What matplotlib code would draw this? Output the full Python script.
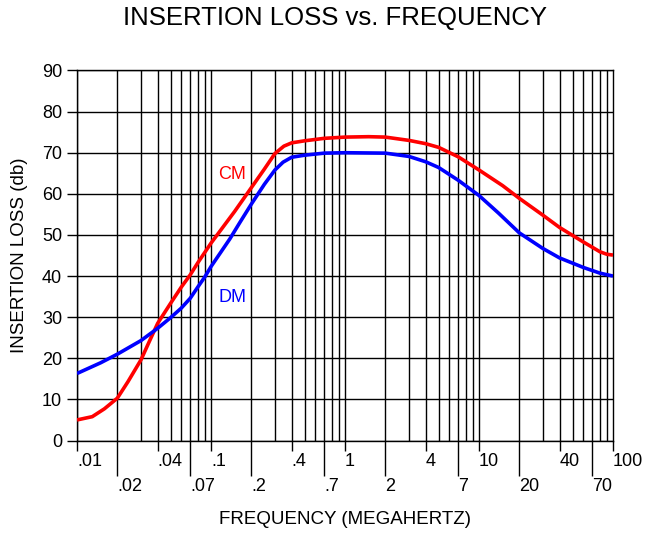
import numpy as np
import matplotlib
matplotlib.use('Agg')
import matplotlib.pyplot as plt

plt.rcParams['font.family'] = ['Liberation Sans', 'DejaVu Sans']

# values
cm_freq = [0.01, 0.013, 0.016, 0.02, 0.024, 0.03, 0.035, 0.04, 0.05, 0.06, 0.07,
           0.08, 0.1, 0.15, 0.2, 0.25, 0.3, 0.35, 0.4, 0.5, 0.7, 1, 1.5, 2, 3,
           4, 5, 7, 10, 15, 20, 30, 40, 60, 80, 90, 100]
cm_loss = [5.0, 5.8, 7.7, 10.3, 14.3, 19.6, 24.4, 28.5, 33.4, 37.3, 40.3,
           43.3, 48, 55.7, 61.5, 66, 69.8, 71.6, 72.4, 72.9, 73.5, 73.8, 73.9, 73.8, 73,
           72.2, 71.3, 69, 65.8, 62, 58.9, 54.8, 51.8, 48.3, 45.9, 45.3, 45.1]

dm_freq = [0.01, 0.015, 0.02, 0.03, 0.04, 0.05, 0.06, 0.07, 0.08, 0.09, 0.1,
           0.138, 0.164, 0.2, 0.25, 0.3, 0.345, 0.4, 0.5, 0.7, 1, 2, 3, 4, 5,
           7, 10, 14, 20, 30, 40, 60, 80, 100]
dm_loss = [16.3, 18.9, 21, 24.3, 27.3, 29.9, 32.2, 34.6, 37.4, 39.8, 42.3,
           49, 53, 57.5, 62.3, 65.8, 67.7, 68.9, 69.4, 69.9, 70, 69.9, 69.1, 67.8, 66.4,
           63.3, 59.6, 55.3, 50.5, 46.7, 44.4, 42.1, 40.7, 40]

top_ticks = [0.01, 0.04, 0.1, 0.4, 1, 4, 10, 40, 100]
top_labels = ['.01', '.04', '.1', '.4', '1', '4', '10', '40', '100']
low_ticks = [0.02, 0.07, 0.2, 0.7, 2, 7, 20, 70]
low_labels = ['.02', '.07', '.2', '.7', '2', '7', '20', '70']
y_ticks = list(range(0, 100, 10))

fig = plt.figure(figsize=(6.58, 5.34), dpi=100)
ax = fig.add_axes([77/658, 1 - 440.5/534, 536/658, 370/534])

ax.set_xscale('log')
ax.set_xlim(0.01, 100)
ax.set_ylim(0, 90)

# grid: every 1..9 of each decade, every 10 db
for dec in [0.01, 0.1, 1, 10]:
    for k in range(1, 10):
        ax.axvline(dec * k, color='black', lw=1.0, zorder=1)
for y in y_ticks:
    ax.axhline(y, color='black', lw=1.0, zorder=1)

ax.plot(cm_freq, cm_loss, color='#ff0000', lw=2.6, zorder=3,
        solid_joinstyle='round', solid_capstyle='butt')
ax.plot(dm_freq, dm_loss, color='#0000ff', lw=2.6, zorder=3,
        solid_joinstyle='round', solid_capstyle='butt')

ax.text(0.1436, 64.8, 'CM', color='#ff0000', fontsize=13, ha='center', va='center')
ax.text(0.1436, 34.9, 'DM', color='#0000ff', fontsize=13, ha='center', va='center')

ax.set_xticks(top_ticks)
ax.set_xticklabels(top_labels)
ax.set_xticks(low_ticks, minor=True)
ax.set_xticklabels(low_labels, minor=True)
ax.tick_params(axis='x', which='major', length=7.2, width=1, pad=2, labelsize=13)
ax.tick_params(axis='x', which='minor', length=25.2, width=1, pad=2, labelsize=13)
for lab in ax.get_xticklabels(which='both'):
    lab.set_horizontalalignment('left')

ax.set_yticks(y_ticks)
ax.tick_params(axis='y', length=7.2, width=1, pad=3.6, labelsize=13)

for sp in ax.spines.values():
    sp.set_linewidth(1.0)

fig.text(335/658, 1 - 18/534, 'INSERTION LOSS vs. FREQUENCY', fontsize=18.5,
         ha='center', va='center')
fig.text(345/658, 1 - 520/534, 'FREQUENCY (MEGAHERTZ)', fontsize=13.5,
         ha='center', va='center')
fig.text(20/658, 1 - 255/534, 'INSERTION LOSS (db)', fontsize=13.5,
         ha='center', va='center', rotation=90)

fig.savefig('out.png', dpi=100)
